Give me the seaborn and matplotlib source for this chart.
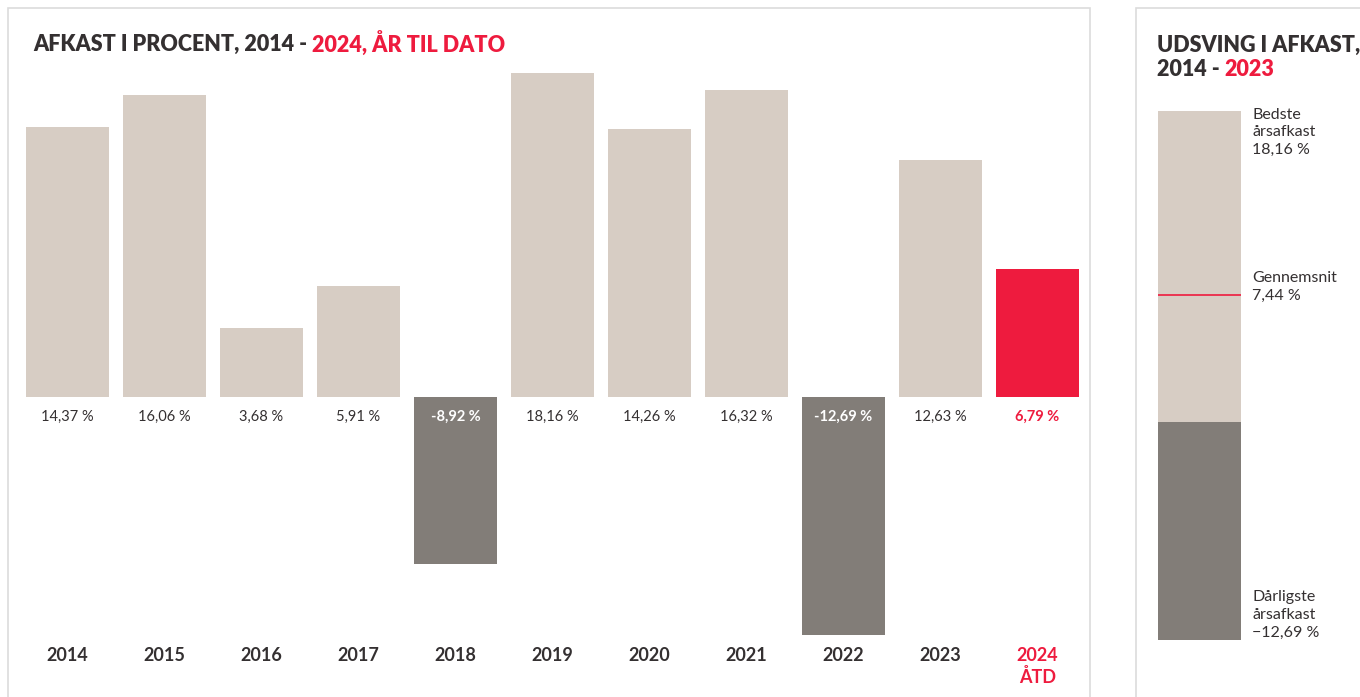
import matplotlib
matplotlib.use("Agg")
import matplotlib.pyplot as plt
import matplotlib.patches as mpatches
import seaborn as sns

# data
years = ["2014", "2015", "2016", "2017", "2018", "2019", "2020", "2021", "2022", "2023", "2024"]
returns = [14.37, 16.06, 3.68, 5.91, -8.92, 18.16, 14.26, 16.32, -12.69, 12.63, 6.79]
value_labels = ["14,37 %", "16,06 %", "3,68 %", "5,91 %", "-8,92 %", "18,16 %",
                "14,26 %", "16,32 %", "-12,69 %", "12,63 %", "6,79 %"]
best, average, worst = 18.16, 7.44, -12.69

BEIGE = "#D7CDC4"
GREY = "#827D78"
RED = "#EE1B3E"
DARK = "#343031"
BORDER = "#DCDCDC"

sns.set_theme(style="white")
plt.rcParams["font.family"] = ["Lato", "DejaVu Sans"]

W, H = 1360, 697
fig = plt.figure(figsize=(W / 100, H / 100), dpi=100)


def box(x0, y0, x1, y1):
    # pixel box (top-left origin) -> figure fraction rect
    return [x0 / W, 1 - y1 / H, (x1 - x0) / W, (y1 - y0) / H]


# panel borders
for x0, x1 in [(8, 1090), (1136, 1400)]:
    fig.patches.append(mpatches.Rectangle((x0 / W, -0.1), (x1 - x0) / W, 1 - 8 / H + 0.1,
                                          transform=fig.transFigure, fill=False,
                                          edgecolor=BORDER, linewidth=1.2))

# ---- main bar chart ----
ax = fig.add_axes(box(19, 73, 1086, 640))
colors = []
for i, v in enumerate(returns):
    if i == len(returns) - 1:
        colors.append(RED)
    elif v < 0:
        colors.append(GREY)
    else:
        colors.append(BEIGE)
sns.barplot(x=years, y=returns, hue=years, palette=colors, legend=False,
            width=0.856, saturation=1, linewidth=0, ax=ax)
ax.set_xlim(-0.5, len(years) - 0.5)
ax.set_ylim(-12.95, 17.25)
ax.axis("off")

for i, (v, lab) in enumerate(zip(returns, value_labels)):
    if i == len(returns) - 1:
        ax.text(i, -1.05, lab, ha="center", va="center", fontsize=10.5, fontweight="bold", color=RED)
    elif v < 0:
        ax.text(i, -1.05, lab, ha="center", va="center", fontsize=10.5, fontweight="bold", color="white")
    else:
        ax.text(i, -1.05, lab, ha="center", va="center", fontsize=10.5, fontweight="normal", color=DARK)

xt = ax.get_xaxis_transform()
for i, y in enumerate(years):
    if i == len(years) - 1:
        ax.text(i, -0.013, y + "\nÅTD", transform=xt, ha="center", va="top", fontsize=13,
                fontweight="bold", color=RED, linespacing=1.25, clip_on=False)
    else:
        ax.text(i, -0.013, y, transform=xt, ha="center", va="top", fontsize=13,
                fontweight="bold", color=DARK, clip_on=False)

# ---- range panel ----
ax2 = fig.add_axes(box(1158, 111, 1241, 640))
sns.barplot(x=[0], y=[best], color=BEIGE, saturation=1, width=1, linewidth=0, ax=ax2)
sns.barplot(x=[0], y=[worst], color=GREY, saturation=1, width=1, linewidth=0, ax=ax2)
ax2.axhline(average, color=RED, linewidth=1.2)
ax2.set_xlim(-0.5, 0.5)
ax2.set_ylim(worst, best)
ax2.axis("off")

side_kw = dict(ha="left", fontsize=11.5, fontweight="normal", color=DARK,
               linespacing=1.35, clip_on=False)
ax2.text(0.633, best + 0.2, "Bedste\nårsafkast\n18,16 %", va="top", **side_kw)
ax2.text(0.633, average + 1.4, "Gennemsnit\n7,44 %", va="top", **side_kw)
ax2.text(0.633, worst + 0.2, "Dårligste\nårsafkast\n\u221212,69 %", va="baseline", **side_kw)

# ---- titles with coloured parts ----
fig.canvas.draw()
renderer = fig.canvas.get_renderer()


def two_tone(x_px, y_px, first, second, size=15.5):
    t = fig.text(x_px / W, 1 - y_px / H, first, fontsize=size, fontweight="heavy",
                 color=DARK, ha="left", va="center")
    bb = t.get_window_extent(renderer=renderer)
    fig.text(bb.x1 / W, 1 - y_px / H, second, fontsize=size, fontweight="heavy",
             color=RED, ha="left", va="center")


two_tone(33, 44, "AFKAST I PROCENT, 2014 - ", "2024, ÅR TIL DATO")
fig.text(1157 / W, 1 - 45 / H, "UDSVING I AFKAST,", fontsize=15.5, fontweight="heavy",
         color=DARK, ha="left", va="center")
two_tone(1157, 69, "2014 - ", "2023")

fig.savefig("out.png", dpi=100)
